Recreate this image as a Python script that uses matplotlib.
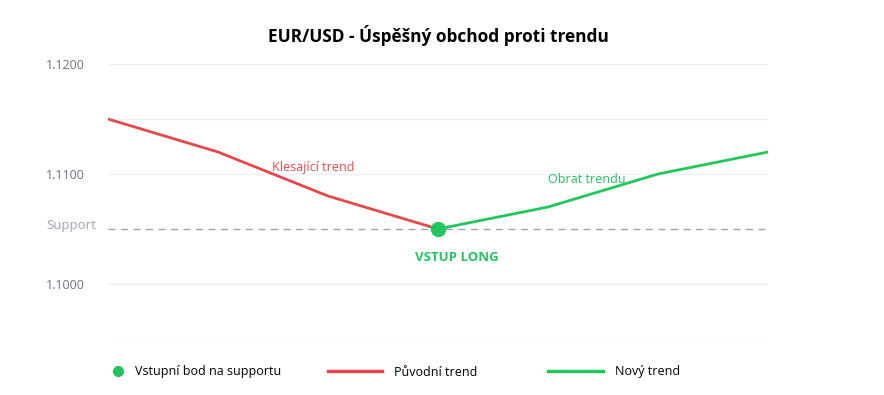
import matplotlib.pyplot as plt
import matplotlib.lines as mlines

plt.rcParams['font.family'] = ['Open Sans', 'DejaVu Sans']

# data
x_old = [0, 1, 2, 3]
y_old = [1.1150, 1.1120, 1.1080, 1.1050]
x_new = [3, 4, 5, 6]
y_new = [1.1050, 1.1070, 1.1100, 1.1120]
support = 1.1050
entry_x, entry_y = 3, 1.1050
grid_levels = [1.0950, 1.1000, 1.1050, 1.1100, 1.1150, 1.1200]
tick_vals = [1.1000, 1.1100, 1.1200]
tick_labels = ["1.1000", "1.1100", "1.1200"]
legend_labels = ["Vstupní bod na supportu", "Původní trend", "Nový trend"]

red = "#e5484d"
green = "#22c55e"
gray = "#6b7280"

fig = plt.figure(figsize=(8.84, 3.95), dpi=100)
ax = fig.add_axes([108/884, 1-339/395, (768-108)/884, (339-64)/395])

for g in grid_levels:
    if g != support:
        ax.axhline(g, color="#f0f0f0", lw=1, zorder=0)
ax.axhline(support, color="#9ca3af", lw=1, ls=(0, (5, 4)), zorder=1)

ax.plot(x_old, y_old, color=red, lw=2, zorder=3)
ax.plot(x_new, y_new, color=green, lw=2, zorder=3)
ax.plot([entry_x], [entry_y], "o", color=green, ms=10, zorder=4)

ax.set_xlim(0, 6)
ax.set_ylim(1.0950, 1.1200)
ax.set_xticks([])
ax.set_yticks(tick_vals)
ax.set_yticklabels(tick_labels)
ax.tick_params(axis="y", length=0, pad=16.5, labelsize=9, labelcolor=gray)
for s in ax.spines.values():
    s.set_visible(False)

ax.text(-12/110, support + 4/11000, "Support", ha="right", va="center", fontsize=9.5,
        color="#9ca3af")

ax.text(1.87, 1.1100 + 6/11000, "Klesající trend", color=red, fontsize=9,
        ha="center", va="center")
ax.text(4.35, 1.1100 - 6/11000, "Obrat trendu", color=green, fontsize=9,
        ha="center", va="center")
ax.text(3.17, 1.1050 - 29/11000, "VSTUP LONG", color=green, fontsize=9.5,
        fontweight="bold", ha="center", va="center")

fig.text(438/884, 1-35/395, "EUR/USD - Úspěšný obchod proti trendu",
         ha="center", va="center", fontsize=12.4, fontweight="bold")

h1 = mlines.Line2D([], [], color=green, marker="o", ls="none", ms=7)
h2 = mlines.Line2D([], [], color=red, lw=2.5)
h3 = mlines.Line2D([], [], color=green, lw=2.5)
legend_specs = [(h1, legend_labels[0], 111.75, 1.0, 0.86),
                (h2, legend_labels[1], 328, 4.32, 0.96),
                (h3, legend_labels[2], 548, 4.4, 0.96)]
for h, lab, xpix, hl, tp in legend_specs:
    fig.legend([h], [lab], loc="center left", bbox_to_anchor=(xpix/884, 1-372/395),
               frameon=False, fontsize=9, handlelength=hl, handletextpad=tp,
               borderpad=0, borderaxespad=0)

fig.savefig("out.png", dpi=100)
